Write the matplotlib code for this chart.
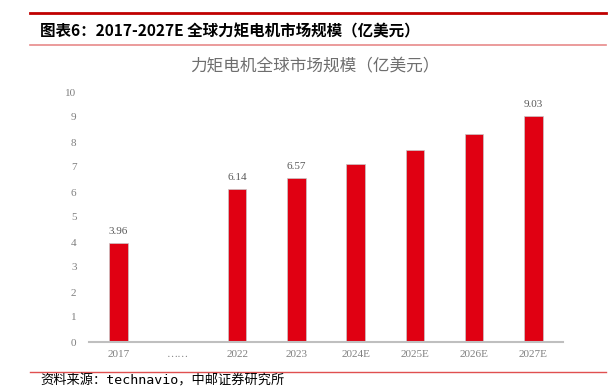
import numpy as np
import matplotlib
matplotlib.use("Agg")
import matplotlib.pyplot as plt
from matplotlib.lines import Line2D

plt.rcParams['font.family'] = ['Noto Sans CJK SC', 'DejaVu Sans']

# === Data ===
categories = ["2017", "……", "2022", "2023", "2024E", "2025E", "2026E", "2027E"]
values = [3.96, np.nan, 6.14, 6.57, 7.12, 7.70, 8.32, 9.03]
shown_labels = ["3.96", "", "6.14", "6.57", "", "", "", "9.03"]
yticks = list(range(0, 11))

heading = "图表6：2017-2027E 全球力矩电机市场规模（亿美元）"
chart_title = "力矩电机全球市场规模（亿美元）"
source = "资料来源：technavio，中邮证券研究所"

W, H = 616, 389
fig = plt.figure(figsize=(W / 100, H / 100), dpi=100)
ax = fig.add_axes([89 / W, 1 - 342 / H, (563 - 89) / W, (342 - 92) / H])

x = np.arange(len(categories))
bar_red = "#E00012"
ax.bar(x, values, width=0.31, color=bar_red, edgecolor="#C8C8C8", linewidth=0.5, zorder=2)

for xi, v, lab in zip(x, values, shown_labels):
    if lab:
        ax.text(xi, v + 0.28, lab, ha="center", va="bottom", fontsize=8,
                family="Liberation Serif", color="#595959")

ax.set_xlim(-0.5, len(categories) - 0.5)
ax.set_ylim(0, 10)
ax.set_yticks(yticks)
ax.set_xticks(x)
ax.set_xticklabels(categories)
for t in ax.get_xticklabels() + ax.get_yticklabels():
    t.set_family("Liberation Serif")
    t.set_color("#7F7F7F")
    t.set_fontsize(8)
ax.tick_params(axis="y", length=0, pad=9)
ax.tick_params(axis="x", length=0, pad=6)
for s in ["top", "right", "left"]:
    ax.spines[s].set_visible(False)
ax.spines["bottom"].set_color("#BFBFBF")
ax.spines["bottom"].set_linewidth(1.5)

# === Titles and frame lines ===
fig.text(315 / W, 1 - 67 / H, chart_title, ha="center", va="center",
         fontsize=12, color="#6E6E6E")
fig.text(40 / W, 1 - 31 / H, heading, ha="left", va="center",
         fontsize=11.2, fontweight="bold", color="black")
fig.add_artist(Line2D([30 / W, 606 / W], [1 - 13 / H] * 2, color="#C00000", lw=2.0))
fig.add_artist(Line2D([30 / W, 606 / W], [1 - 44.5 / H] * 2, color="#E88A8A", lw=1.2))
fig.add_artist(Line2D([30 / W, 606 / W], [1 - 372 / H] * 2, color="#E05050", lw=1.0))
fig.text(40 / W, 1 - 375 / H, source, ha="left", va="top",
         fontsize=9.5, color="black", family=["DejaVu Sans Mono", "Noto Sans CJK SC"])

fig.savefig("out.png", dpi=100)
